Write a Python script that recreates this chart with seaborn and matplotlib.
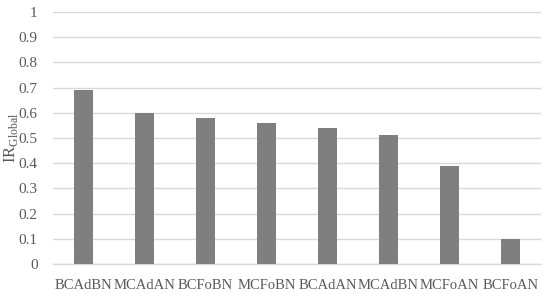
import matplotlib
matplotlib.use("Agg")
import matplotlib.pyplot as plt
import seaborn as sns
import pandas as pd

categories = ["BCAdBN", "MCAdAN", "BCFoBN", "MCFoBN", "BCAdAN", "MCAdBN", "MCFoAN", "BCFoAN"]
values = [0.69, 0.60, 0.58, 0.56, 0.54, 0.51, 0.39, 0.10]
yticks = [0, 0.1, 0.2, 0.3, 0.4, 0.5, 0.6, 0.7, 0.8, 0.9, 1]
ytick_labels = ["0", "0.1", "0.2", "0.3", "0.4", "0.5", "0.6", "0.7", "0.8", "0.9", "1"]

sns.set_style("white")
plt.rcParams['font.family'] = ['Liberation Serif', 'DejaVu Serif']
plt.rcParams['mathtext.fontset'] = 'custom'
plt.rcParams['mathtext.rm'] = 'Liberation Serif'

df = pd.DataFrame({"cat": categories, "val": values})

fig = plt.figure(figsize=(5.5, 2.94), dpi=100)
ax = fig.add_axes([53/550, 30/294, 488/550, 252/294])
sns.barplot(data=df, x="cat", y="val", color="#7f7f7f", saturation=1, width=0.31, ax=ax, zorder=3)
for p in ax.patches:
    p.set_edgecolor("none")

ax.set_ylim(0, 1)
ax.set_xlim(-0.5, 7.5)
ax.set_yticks(yticks)
ax.set_yticklabels(ytick_labels)
ax.yaxis.grid(True, color="#d9d9d9", linewidth=1, zorder=0)
ax.set_axisbelow(True)
for s in ["top", "right", "left"]:
    ax.spines[s].set_visible(False)
ax.spines["bottom"].set_color("#d9d9d9")
ax.spines["bottom"].set_linewidth(1)
ax.tick_params(axis="both", length=0, colors="#595959")
ax.tick_params(axis="y", pad=11, labelsize=11)
ax.tick_params(axis="x", pad=11, labelsize=10.5)
ax.set_xlabel("")
ax.set_ylabel("")
fig.text(11/550, 1 - 138/294, r"IR$_{\mathrm{Global}}$", color="#595959", fontsize=12,
         rotation=90, ha="center", va="center")

fig.savefig("out.png", dpi=100)
